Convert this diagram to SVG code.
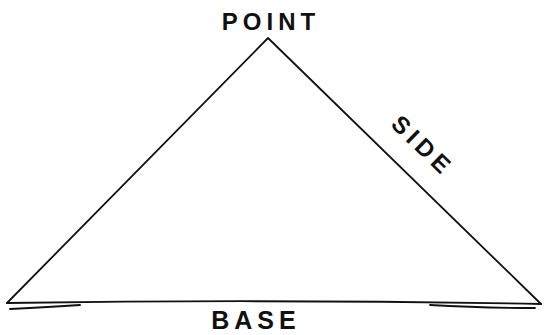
<svg xmlns="http://www.w3.org/2000/svg" width="545" height="335" viewBox="0 0 545 335">
<style>
.lbl{font-family:"Liberation Sans","DejaVu Sans",sans-serif;font-weight:bold;font-size:24px;fill:#111;letter-spacing:5px;text-anchor:middle}
.ln{fill:none;stroke:#111;stroke-width:1.8;stroke-linecap:round;stroke-linejoin:round}
</style>
<rect width="545" height="335" fill="#fff"/>
<g id="connectors">
<path class="ln" d="M7,303 L268,38 L541,304"/>
<path class="ln" d="M7,303 Q270,299 541,304" stroke-width="2"/>
<path class="ln" d="M10,309 Q50,307 80,305" stroke-width="1.6"/>
<path class="ln" d="M430,305 Q480,308 535,308" stroke-width="2.6"/>
</g>
<g id="point"><text class="lbl" x="271" y="30">POINT</text></g>
<g id="side"><text class="lbl" transform="translate(417,152) rotate(44)" x="0" y="0">SIDE</text></g>
<g id="base"><text class="lbl" x="256" y="329" style="font-size:25px">BASE</text></g>
</svg>
